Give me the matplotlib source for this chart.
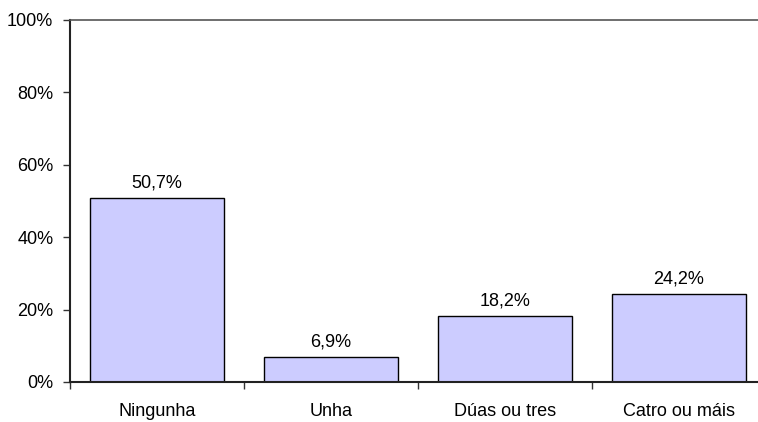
import matplotlib.pyplot as plt
import numpy as np
import matplotlib as mpl

mpl.rcParams['font.family'] = ['Liberation Sans', 'DejaVu Sans']
mpl.rcParams['font.size'] = 13

# Datos
categorias = ['Ningunha', 'Unha', 'Dúas ou tres', 'Catro ou máis']
valores = [50.7, 6.9, 18.2, 24.2]
etiquetas = ['50,7%', '6,9%', '18,2%', '24,2%']
yticks = [0, 20, 40, 60, 80, 100]

fig = plt.figure(figsize=(7.58, 4.22), dpi=100)
ax = fig.add_axes([70/758, 40/422, 696/758, 362/422])

x = np.arange(len(categorias))
ax.bar(x, valores, width=0.775, color='#ccccff', edgecolor='black', linewidth=1.0, zorder=2)
for xi, v, t in zip(x, valores, etiquetas):
    ax.annotate(t, (xi, v), xytext=(0, 5), textcoords='offset points', ha='center', va='bottom')

ax.set_xlim(-0.5, 3.5)
ax.set_ylim(0, 100)
ax.set_yticks(yticks)
ax.set_yticklabels([f'{t}%' for t in yticks])
ax.set_xticks(x)
ax.set_xticklabels(categorias)
ax.set_xticks(np.arange(-0.5, 4.0, 1.0), minor=True)
ax.tick_params(axis='x', which='major', length=0, pad=15)
ax.tick_params(axis='x', which='minor', length=5, direction='out', width=1, color='#333333')
ax.tick_params(axis='y', length=5, width=1, pad=7, color='#333333')

ax.spines['right'].set_visible(False)
ax.spines['top'].set_color('#555555')
ax.spines['top'].set_linewidth(1.2)
ax.spines['left'].set_linewidth(1.5)
ax.spines['left'].set_color('#222222')
ax.spines['bottom'].set_linewidth(1.5)
ax.spines['bottom'].set_color('#222222')

fig.savefig('out.png', dpi=100)
